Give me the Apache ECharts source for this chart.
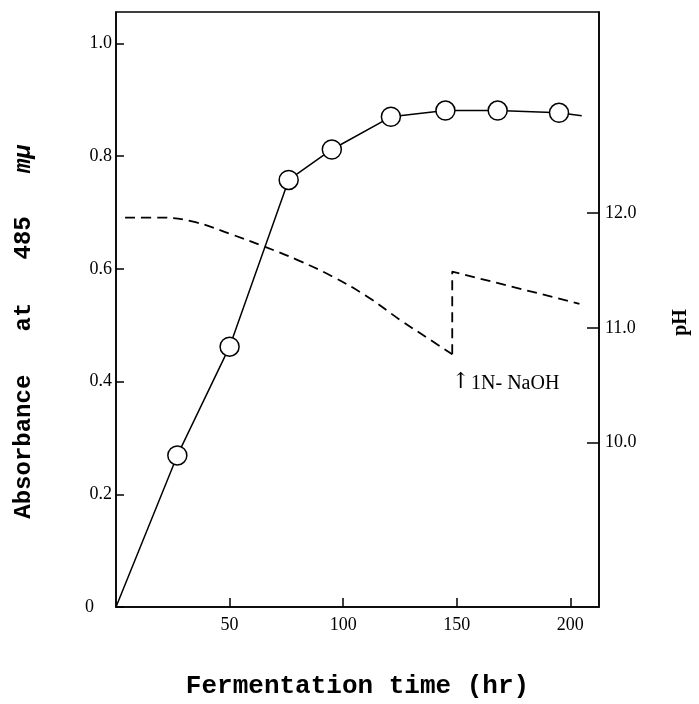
<!DOCTYPE html>
<html>
<head>
<meta charset="utf-8">
<script src="https://cdn.jsdelivr.net/npm/echarts@6/dist/echarts.min.js"></script>
<style>
  html, body { margin: 0; padding: 0; background: #fff; }
  #main { width: 699px; height: 704px; }
</style>
</head>
<body>
<div id="main"></div>
<script>
// absorbance (solid line, open circles)
const absTime = [0, 27, 50, 76, 95, 121, 145, 168, 195, 205];
const absValue = [0, 0.269, 0.462, 0.758, 0.812, 0.870, 0.881, 0.881, 0.877, 0.872];
const absMarked = [false, true, true, true, true, true, true, true, true, false];

// pH (dashed) before and after NaOH addition
const phTimeBefore = [4, 20, 35, 50, 65, 80, 95, 110, 125, 138, 148];
const phBefore = [11.96, 11.96, 11.92, 11.82, 11.71, 11.59, 11.45, 11.28, 11.07, 10.90, 10.77];
const phTimeAfter = [148, 148, 204];
const phAfter = [10.77, 11.49, 11.21];

const xTicks = [50, 100, 150, 200];
const absTicks = [0, 0.2, 0.4, 0.6, 0.8, 1.0];
const phTicks = [10, 11, 12];

const naohNote = { time: 147.5, ph: 10.51, text: '1N- NaOH' };

const chart = echarts.init(document.getElementById('main'), null, { renderer: 'canvas' });

const serif = 'Liberation Serif';
const mono = 'Liberation Mono';
const lineW = 1.5;

const absData = absTime.map((t, i) => ({
  value: [t, absValue[i]],
  symbol: absMarked[i] ? 'circle' : 'none'
}));

const option = {
  animation: false,
  backgroundColor: '#fff',
  grid: { left: 116, right: 94, top: 12, bottom: 91, show: true, borderColor: '#000', borderWidth: lineW },
  xAxis: {
    type: 'value',
    min: 0,
    max: 212.6,
    name: 'Fermentation time (hr)',
    nameLocation: 'middle',
    nameGap: 66,
    nameTextStyle: { fontFamily: mono, fontSize: 26, fontWeight: 'bold', color: '#000' },
    axisLine: { lineStyle: { color: '#000', width: lineW } },
    axisTick: { inside: true, length: 9, customValues: xTicks, lineStyle: { color: '#000', width: lineW } },
    axisLabel: { customValues: xTicks, fontFamily: serif, fontSize: 18, color: '#000', margin: 9 },
    splitLine: { show: false }
  },
  yAxis: [
    {
      type: 'value',
      min: 0,
      max: 1.056,
      name: 'Absorbance   at   485   {it|mμ}',
      nameLocation: 'middle',
      nameRotate: 90,
      nameGap: 80,
      nameTextStyle: {
        fontFamily: mono, fontSize: 24, fontWeight: 'bold', color: '#000',
        padding: [0, 44, 0, 0],
        rich: { it: { fontFamily: mono, fontSize: 24, fontWeight: 'bold', fontStyle: 'italic', color: '#000' } }
      },
      axisLine: { lineStyle: { color: '#000', width: lineW } },
      axisTick: { inside: true, length: 8, customValues: absTicks, lineStyle: { color: '#000', width: lineW } },
      axisLabel: {
        customValues: absTicks,
        fontFamily: serif, fontSize: 18, color: '#000', margin: 4,
        formatter: v => (v === 0 ? '{z|0}' : v.toFixed(1)),
        rich: { z: { fontFamily: serif, fontSize: 18, color: '#000', padding: [0, 18, 0, 0] } }
      },
      splitLine: { show: false }
    },
    {
      type: 'value',
      position: 'right',
      min: 8.57,
      max: 13.75,
      name: 'pH',
      nameLocation: 'middle',
      nameRotate: 90,
      nameGap: 72,
      nameTextStyle: { fontFamily: serif, fontSize: 20, fontWeight: 'bold', color: '#000', padding: [0, 26, 0, 0] },
      axisLine: { show: true, lineStyle: { color: '#000', width: lineW } },
      axisTick: { inside: true, length: 12, customValues: phTicks, lineStyle: { color: '#000', width: lineW } },
      axisLabel: { customValues: phTicks, fontFamily: serif, fontSize: 18, color: '#000', margin: 6, formatter: v => v.toFixed(1) },
      splitLine: { show: false }
    }
  ],
  series: [
    {
      name: 'pH before',
      type: 'line',
      yAxisIndex: 1,
      smooth: 0.4,
      symbol: 'none',
      lineStyle: { color: '#000', width: 1.8, type: [10, 6] },
      data: phTimeBefore.map((t, i) => [t, phBefore[i]]),
      z: 2
    },
    {
      name: 'pH after',
      type: 'line',
      yAxisIndex: 1,
      symbol: 'none',
      lineStyle: { color: '#000', width: 1.8, type: [10, 6] },
      data: phTimeAfter.map((t, i) => [t, phAfter[i]]),
      markPoint: {
        symbol: 'circle',
        symbolSize: 1,
        itemStyle: { color: 'rgba(0,0,0,0)' },
        label: {
          show: true,
          position: 'right',
          distance: 0,
          color: '#000',
          formatter: '{a|↑}{t|' + naohNote.text + '}',
          rich: {
            a: { fontFamily: 'DejaVu Serif', fontSize: 22, color: '#000', padding: [0, 1, 4, 0] },
            t: { fontFamily: serif, fontSize: 20, color: '#000' }
          }
        },
        data: [{ coord: [naohNote.time, naohNote.ph] }]
      },
      z: 2
    },
    {
      name: 'Absorbance',
      type: 'line',
      yAxisIndex: 0,
      symbolSize: 19,
      lineStyle: { color: '#000', width: lineW },
      itemStyle: { color: '#fff', borderColor: '#000', borderWidth: lineW },
      data: absData,
      z: 3
    }
  ]
};

chart.setOption(option);
</script>
</body>
</html>
